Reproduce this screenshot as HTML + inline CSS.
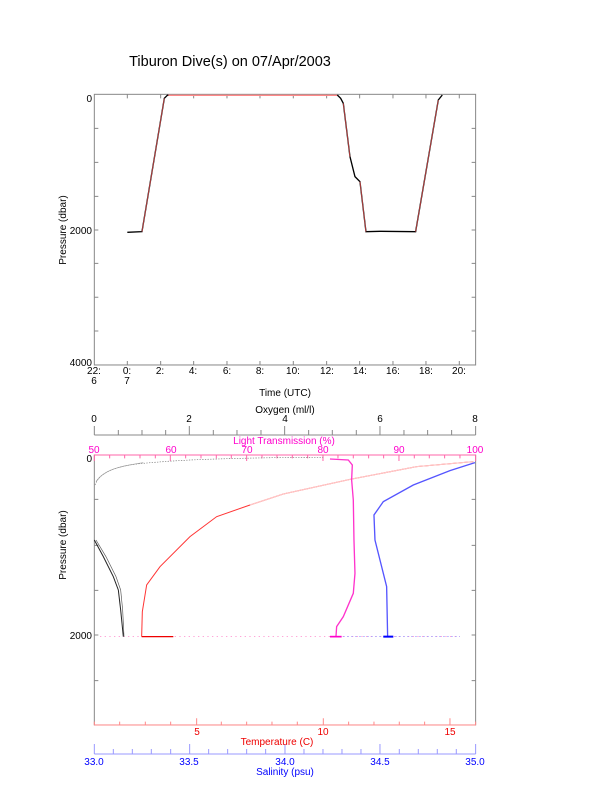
<!DOCTYPE html>
<html><head><style>
html,body{margin:0;padding:0;background:#fff;}
svg{display:block;font-family:"Liberation Sans",sans-serif;}
</style></head><body>
<svg width="612" height="785" viewBox="0 0 612 785" xmlns="http://www.w3.org/2000/svg">
<rect width="612" height="785" fill="#fff"/>
<text x="230" y="66" font-size="14.5" text-anchor="middle" fill="#000">Tiburon Dive(s) on 07/Apr/2003</text>

<!-- Top plot -->
<g transform="translate(50,80) scale(0.3333)">
 <rect x="133" y="43" width="1144" height="812" fill="none" stroke="#888" stroke-width="3"/>
 <g stroke="#888" stroke-width="3">
  <path d="M133 145h12M133 247h12M133 349h12M133 450h12M133 550h12M133 652h12M133 753h12"/>
  <path d="M1277 145h-12M1277 247h-12M1277 349h-12M1277 450h-12M1277 550h-12M1277 652h-12M1277 753h-12"/>
  <path d="M232 855v-12M332 855v-12M431 855v-12M531 855v-12M630 855v-12M730 855v-12M830 855v-12M929 855v-12M1029 855v-12M1128 855v-12M1228 855v-12"/>
  <path d="M232 43v12M332 43v12M431 43v12M531 43v12M630 43v12M730 43v12M830 43v12M929 43v12M1029 43v12M1128 43v12M1228 43v12"/>
 </g>
 <path d="M352 46 L862 46" stroke="#f88" stroke-width="4"/>
 <path d="M232 457 L276 455 L343 55 L352 46 L355 45 M862 45 L872 55 L880 70 L900 230 L915 290 L930 305 L948 455 L990 454 L1097 455 L1165 60 L1177 45" fill="none" stroke="#000" stroke-width="4"/>
 <path d="M276 455 L343 55 M880 70 L900 230 M930 305 L948 455 M1097 455 L1165 60" fill="none" stroke="#e55" stroke-width="2"/>
</g>
<g font-size="10" fill="#000">
 <text x="92" y="102" text-anchor="end">0</text>
 <text x="92" y="234" text-anchor="end">2000</text>
 <text x="92" y="366" text-anchor="end">4000</text>
 <g text-anchor="middle">
  <text x="94" y="374">22:</text><text x="94" y="384">6</text>
  <text x="127" y="374">0:</text><text x="127" y="384">7</text>
  <text x="160" y="374">2:</text><text x="193" y="374">4:</text><text x="227" y="374">6:</text>
  <text x="260" y="374">8:</text><text x="293" y="374">10:</text><text x="327" y="374">12:</text>
  <text x="360" y="374">14:</text><text x="393" y="374">16:</text><text x="426" y="374">18:</text>
  <text x="459" y="374">20:</text>
  <text x="285" y="396">Time (UTC)</text>
 </g>
 <text transform="translate(66,230) rotate(-90)" text-anchor="middle">Pressure (dbar)</text>
</g>

<!-- Bottom plot -->
<g transform="translate(50,400) scale(0.3333)">
 <rect x="133" y="165" width="1144" height="810" fill="none" stroke="#888" stroke-width="3"/>
 <g stroke="#888" stroke-width="3">
  <path d="M133 298h12M133 436h12M133 571h12M133 705h12M133 842h12"/>
  <path d="M1277 298h-12M1277 436h-12M1277 571h-12M1277 705h-12M1277 842h-12"/>
  <!-- oxygen axis -->
  <path d="M133 105H1277"/>
  <path d="M133 105v-27M205 105v-15M276 105v-15M347 105v-15M418 105v-27M490 105v-15M561 105v-15M633 105v-15M704 105v-27M776 105v-15M847 105v-15M919 105v-15M990 105v-27M1062 105v-15M1133 105v-15M1205 105v-15M1277 105v-27"/>
 </g>
 <g stroke="#f6a" stroke-width="3">
  <path d="M133 165h1144"/>
  <path d="M133 165v18M179 165v10M224 165v10M270 165v10M316 165v10M361 165v18M407 165v10M453 165v10M499 165v10M544 165v10M590 165v18M636 165v10M681 165v10M727 165v10M773 165v10M819 165v18M864 165v10M910 165v10M956 165v10M1001 165v10M1047 165v18M1093 165v10M1138 165v10M1184 165v10M1230 165v10M1277 165v18"/>
 </g>
 <g stroke="#f88" stroke-width="3">
  <path d="M133 975h1144"/>
  <path d="M133 975v-10M209 975v-10M286 975v-10M362 975v-10M440 975v-20M514 975v-10M590 975v-10M666 975v-10M742 975v-10M820 975v-20M896 975v-10M972 975v-10M1048 975v-10M1124 975v-10M1200 975v-20M1277 975v-10"/>
 </g>
 <g stroke="#99f" stroke-width="3">
  <path d="M133 1062h1144"/>
  <path d="M133 1062v-30M190 1062v-15M247 1062v-15M304 1062v-15M362 1062v-15M419 1062v-30M476 1062v-15M533 1062v-15M590 1062v-15M647 1062v-15M705 1062v-30M762 1062v-15M819 1062v-15M876 1062v-15M933 1062v-15M990 1062v-30M1048 1062v-15M1105 1062v-15M1162 1062v-15M1219 1062v-15M1277 1062v-30"/>
 </g>
 <!-- 2000 scatter -->
 <path d="M150 710H1230" stroke="#f8c" stroke-width="2" stroke-dasharray="4 10"/>
 <path d="M880 710H1230" stroke="#88f" stroke-width="2" stroke-dasharray="4 8"/>
 <!-- oxygen shallow -->
 <path d="M135 255 C150 215 200 200 260 192 C330 185 400 180 500 177 C600 174 700 172 820 172" fill="none" stroke="#777" stroke-width="2" stroke-dasharray="4 4"/>
 <path d="M138 245 C160 210 210 198 280 188" fill="none" stroke="#999" stroke-width="2"/>
 <!-- oxygen deep -->
 <path d="M133 420 L160 470 L190 530 L205 570 L212 630 L220 710" fill="none" stroke="#222" stroke-width="3"/>
 <path d="M138 420 L168 470 L198 530 L212 570 L218 630 L222 710" fill="none" stroke="#555" stroke-width="2"/>
 <!-- temperature -->
 <path d="M275 710 L277 635 L290 555 L330 500 L420 410 L500 350 L600 315 L700 282 L900 238 L1100 200 L1270 185" fill="none" stroke="#f33" stroke-width="3"/>
 <path d="M600 315 L700 282 L900 238 L1100 200 L1270 185" fill="none" stroke="#fcc" stroke-width="3"/>
 <path d="M275 710 L370 710" stroke="#e00" stroke-width="4"/>
 <!-- transmission -->
 <path d="M840 177 L895 180 L907 195 L905 240 L910 300 L912 420 L915 520 L910 580 L880 650 L860 680 L858 710" fill="none" stroke="#f3c" stroke-width="4"/>
 <path d="M840 710 L875 710" stroke="#f0c" stroke-width="5"/>
 <!-- salinity -->
 <path d="M1275 188 L1200 212 L1090 255 L1000 305 L972 345 L975 420 L995 500 L1010 560 L1013 710" fill="none" stroke="#55f" stroke-width="4"/>
 <path d="M1000 710 L1030 710" stroke="#00f" stroke-width="6"/>
</g>
<g font-size="10">
 <text x="92" y="462" text-anchor="end">0</text>
 <text x="92" y="639" text-anchor="end">2000</text>
 <text transform="translate(66,545) rotate(-90)" text-anchor="middle">Pressure (dbar)</text>
 <g text-anchor="middle" fill="#000">
  <text x="94" y="422">0</text><text x="189" y="422">2</text><text x="285" y="422">4</text>
  <text x="380" y="422">6</text><text x="475" y="422">8</text>
  <text x="285" y="413">Oxygen (ml/l)</text>
 </g>
 <g text-anchor="middle" fill="#f0c">
  <text x="94" y="453">50</text><text x="171" y="453">60</text><text x="247" y="453">70</text>
  <text x="323" y="453">80</text><text x="399" y="453">90</text><text x="475" y="453">100</text>
  <text x="284" y="444">Light Transmission (%)</text>
 </g>
 <g text-anchor="middle" fill="#e00">
  <text x="197" y="735">5</text><text x="323" y="735">10</text><text x="450" y="735">15</text>
  <text x="277" y="745">Temperature (C)</text>
 </g>
 <g text-anchor="middle" fill="#00f">
  <text x="94" y="765">33.0</text><text x="189" y="765">33.5</text><text x="285" y="765">34.0</text>
  <text x="380" y="765">34.5</text><text x="475" y="765">35.0</text>
  <text x="285" y="775">Salinity (psu)</text>
 </g>
</g>
</svg>
</body></html>
